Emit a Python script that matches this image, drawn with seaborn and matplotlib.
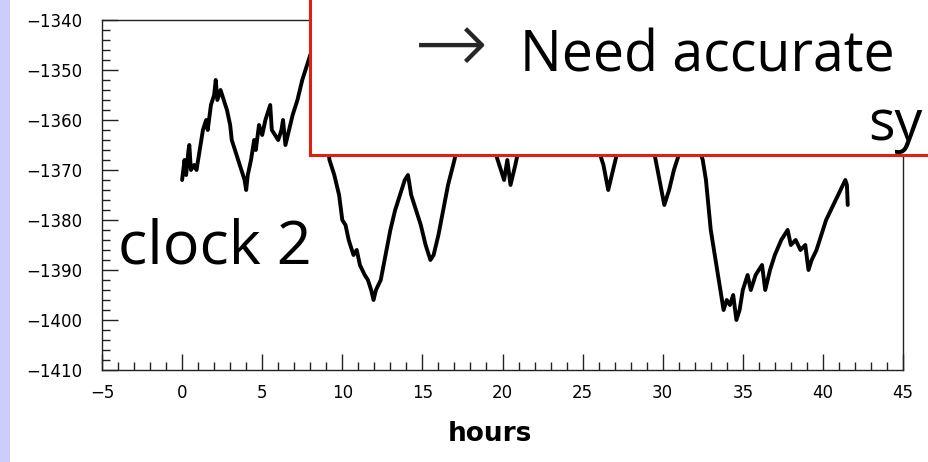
import matplotlib
matplotlib.use("Agg")
import matplotlib.pyplot as plt
from matplotlib.patches import Rectangle
from matplotlib.ticker import MultipleLocator
import seaborn as sns
import pandas as pd

# clock offset trace (hours, offset)
hours = [0.0, 0.15, 0.25, 0.4, 0.45, 0.55, 0.75, 0.9, 1.1, 1.3, 1.5, 1.6, 1.8, 2.0, 2.1,
         2.2, 2.4, 2.6, 2.8, 3.0, 3.1, 3.3, 3.5, 3.7, 3.9, 4.0, 4.1, 4.3, 4.5, 4.6,
         4.8, 5.0, 5.2, 5.4, 5.5, 5.6, 5.8, 6.0, 6.2, 6.3, 6.45, 6.6, 6.9, 7.2, 7.5,
         7.8, 8.0, 8.3, 8.6, 8.9, 9.2, 9.5, 9.8, 10.0, 10.2, 10.4, 10.7, 10.9, 11.1, 11.4,
         11.6, 11.8, 11.95, 12.1, 12.4, 12.7, 13.0, 13.3, 13.6, 13.9, 14.1, 14.3, 14.6, 14.9,
         15.2, 15.5, 15.7, 16.0, 16.3, 16.6, 17.0, 17.5, 18.0, 18.5, 19.0, 19.5, 19.8, 20.1,
         20.3, 20.5, 20.8, 21.0, 21.5, 22.5, 23.5, 24.5, 25.5, 26.0, 26.3, 26.6, 26.9, 27.2,
         27.8, 28.6, 29.2, 29.5, 29.8, 30.1, 30.4, 30.7, 31.0, 31.6, 32.1, 32.5, 32.7, 33.0,
         33.3, 33.6, 33.8, 34.0, 34.2, 34.4, 34.6, 34.8, 35.0, 35.3, 35.5, 35.8, 36.0, 36.2,
         36.4, 36.7, 37.0, 37.4, 37.8, 38.0, 38.3, 38.6, 38.9, 39.1, 39.3, 39.6, 39.9, 40.2,
         40.5, 40.8, 41.1, 41.4, 41.5, 41.55]
offset = [-1372, -1368, -1371, -1366, -1365, -1370, -1369, -1370, -1366, -1362, -1360, -1362, -1357, -1355, -1352,
          -1356, -1354, -1356, -1358, -1361, -1364, -1366, -1368, -1370, -1372, -1374, -1371, -1368, -1364, -1366,
          -1361, -1363, -1360, -1358, -1357, -1362, -1363, -1364, -1362, -1360, -1365, -1363, -1359, -1356, -1352,
          -1349, -1347, -1345, -1350, -1360, -1368, -1371, -1375, -1380, -1381, -1384, -1387, -1386, -1389, -1391,
          -1392, -1394, -1396, -1394, -1392, -1387, -1382, -1378, -1375, -1372, -1371, -1375, -1378, -1381,
          -1385, -1388, -1387, -1383, -1378, -1373, -1368, -1360, -1355, -1358, -1362, -1366, -1369, -1372,
          -1368, -1373, -1369, -1366, -1360, -1356, -1360, -1358, -1362, -1366, -1369, -1374, -1370, -1366,
          -1360, -1362, -1364, -1367, -1372, -1377, -1374, -1370, -1367, -1362, -1364, -1368, -1372, -1382,
          -1388, -1394, -1398, -1396, -1397, -1395, -1400, -1398, -1394, -1391, -1394, -1391, -1390, -1389,
          -1394, -1390, -1387, -1384, -1382, -1385, -1384, -1386, -1385, -1390, -1388, -1386, -1383, -1380,
          -1378, -1376, -1374, -1372, -1373, -1377]

df = pd.DataFrame({"hours": hours, "offset": offset})

sns.set_style("white")
plt.rcParams['font.family'] = ['DejaVu Sans']

W, H = 929, 462
fig = plt.figure(figsize=(W / 100, H / 100), dpi=100)
ax = fig.add_axes([102 / W, 1 - 370 / H, 801 / W, 350 / H])

sns.lineplot(data=df, x="hours", y="offset", ax=ax, color="black", lw=2.8,
             sort=False, estimator=None)

ax.set_xlim(-5, 45)
ax.set_ylim(-1410, -1340)
ax.xaxis.set_major_locator(MultipleLocator(5))
ax.xaxis.set_minor_locator(MultipleLocator(1))
ax.yaxis.set_major_locator(MultipleLocator(10))
ax.yaxis.set_minor_locator(MultipleLocator(2))
ax.tick_params(which="both", direction="in", bottom=True, left=True, top=False, right=False,
               color="#222222", width=1, labelcolor="black")
ax.tick_params(which="major", length=11.5)
ax.tick_params(which="minor", length=5.8)
ax.tick_params(axis="y", which="major", pad=14, labelsize=12)
ax.tick_params(axis="x", which="major", pad=10, labelsize=12)
for s in ax.spines.values():
    s.set_color("#222222")
    s.set_linewidth(1)

ax.set_ylabel("")
ax.set_xlabel("hours", fontweight="bold", fontsize=19, color="black")
ax.xaxis.set_label_coords(0.484, -0.146)

# slide decorations
fig.add_artist(Rectangle((0, 0), 10 / W, 1, transform=fig.transFigure,
                         facecolor="#CCCCFF", edgecolor="none", zorder=1))
fig.add_artist(Rectangle((310 / W, 1 - 155 / H), 1, 1, transform=fig.transFigure,
                         facecolor="white", edgecolor="#E0200C", lw=2.2, zorder=5))

big = dict(family=["Open Sans", "DejaVu Sans"], color="black", zorder=6,
           va="baseline", ha="left")
fig.text(118 / W, 1 - 263 / H, "clock 2", fontsize=44, **big)
fig.text(520 / W, 1 - 72 / H, "Need accurate", fontsize=40, **big)
fig.text(868 / W, 1 - 140 / H, "sy", fontsize=40, **big)
fig.text(414 / W, 1 - 48 / H, "\u2192", fontsize=64, family="DejaVu Sans", fontweight="light",
         va="center", ha="left", zorder=6)

fig.savefig("out.png", dpi=100)
